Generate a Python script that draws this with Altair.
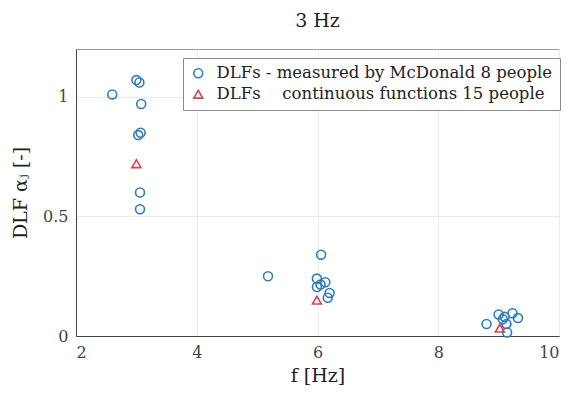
import altair as alt
import pandas as pd

# Data
meas_f = [2.6, 3.0, 3.05, 3.08, 3.03, 3.07, 3.06, 3.06,
          5.18, 6.06, 5.99, 6.13, 5.99, 6.2, 6.17, 6.05,
          8.8, 9.0, 9.1, 9.23, 9.32, 9.13, 9.14, 9.07]
meas_dlf = [1.01, 1.07, 1.06, 0.97, 0.84, 0.85, 0.60, 0.53,
            0.25, 0.34, 0.24, 0.225, 0.205, 0.18, 0.16, 0.215,
            0.05, 0.09, 0.08, 0.095, 0.075, 0.05, 0.015, 0.07]
cont_f = [3.0, 5.99, 9.02]
cont_dlf = [0.72, 0.15, 0.033]

series_names = ["DLFs - measured by McDonald 8 people",
                "DLFs \u2003continuous functions 15 people"]
series_colors = ["#2f7bbf", "#d8434f"]
series_shapes = ["circle", "triangle-up"]

x_ticks = [2, 4, 6, 8, 10]
y_ticks = [0, 0.5, 1]

rows = [{"f": f, "dlf": d, "series": series_names[0], "ord": 0} for f, d in zip(meas_f, meas_dlf)]
rows += [{"f": f, "dlf": d, "series": series_names[1], "ord": 1} for f, d in zip(cont_f, cont_dlf)]
df = pd.DataFrame(rows)

FONT = "DejaVu Serif"

chart = alt.Chart(df).mark_point(filled=False, size=80, strokeWidth=1.6, opacity=1).encode(
    x=alt.X("f:Q", scale=alt.Scale(domain=[2, 10], nice=False, zero=False),
            axis=alt.Axis(values=x_ticks, title="f [Hz]", format="d", tickSize=0,
                          labelPadding=8, titlePadding=6)),
    y=alt.Y("dlf:Q", scale=alt.Scale(domain=[0, 1.2], nice=False),
            axis=alt.Axis(values=y_ticks, title="DLF \u03b1\u2c7c [-]", format="~g", tickSize=0,
                          labelPadding=8, titlePadding=12)),
    color=alt.Color("series:N",
                    scale=alt.Scale(domain=series_names, range=series_colors),
                    legend=alt.Legend(title=None, orient="none", legendX=107, legendY=9,
                                      strokeColor="#8a8a8a", fillColor="white",
                                      padding=7, rowPadding=4,
                                      labelFont=FONT, labelFontSize=16.5, labelColor="#222",
                                      labelLimit=500, symbolSize=80, symbolStrokeWidth=1.6,
                                      labelOffset=10)),
    shape=alt.Shape("series:N",
                    scale=alt.Scale(domain=series_names, range=series_shapes),
                    legend=None),
    order=alt.Order("ord:Q"),
).properties(
    width=483, height=287,
    title=alt.TitleParams("3 Hz", font=FONT, fontSize=19, fontWeight="normal",
                          color="#222", offset=18, anchor="middle"),
    autosize=alt.AutoSizeParams(type="none"),
    padding={"left": 68, "top": 41, "right": 4, "bottom": 56},
).configure(
    font=FONT,
).configure_axis(
    labelFont=FONT, titleFont=FONT, labelFontSize=16, titleFontSize=19,
    titleFontWeight="normal", labelColor="#444", titleColor="#222",
    gridColor="#ebebeb", domainColor="#444", domainWidth=1,
).configure_view(
    stroke="#999", strokeWidth=1,
)

chart.save("out.html", embed_options={"renderer": "svg", "actions": False})
